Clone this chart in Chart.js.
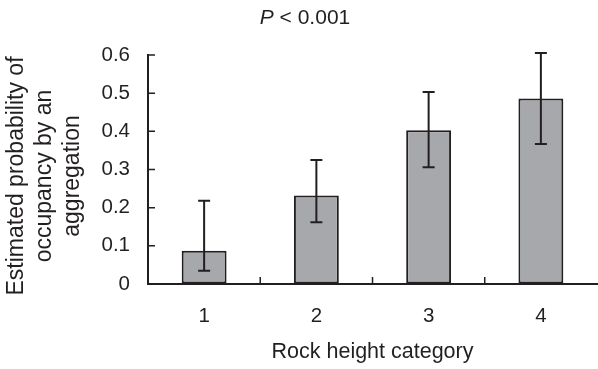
<!DOCTYPE html>
<html>
<head>
<meta charset="utf-8">
<script src="https://cdn.jsdelivr.net/npm/chart.js@4"></script>
<style>
  body { margin: 0; background: #fff; }
  canvas { display: block; }
</style>
</head>
<body>
<canvas id="myChart" width="598" height="369"></canvas>
<script>
const categories = ['1', '2', '3', '4'];
const estimates = [0.087, 0.232, 0.403, 0.486];
const upperCI = [0.218, 0.325, 0.503, 0.605];
const lowerCI = [0.035, 0.162, 0.306, 0.367];
const yTicks = [0, 0.1, 0.2, 0.3, 0.4, 0.5, 0.6];
const yTitleLines = ['Estimated probability of', 'occupancy by an', 'aggregation'];

const dark = '#231f20';
const fontFamily = '"Liberation Sans", Arial, sans-serif';

// error bars, inside tick marks, y title and the P value heading
const extras = {
    id: 'extras',
    afterDatasetsDraw(chart) {
        const ctx = chart.ctx;
        const y = chart.scales.y;
        const meta = chart.getDatasetMeta(0);
        ctx.save();
        ctx.strokeStyle = dark;
        ctx.lineWidth = 2;
        meta.data.forEach((bar, i) => {
            const top = y.getPixelForValue(upperCI[i]);
            const bottom = y.getPixelForValue(lowerCI[i]);
            ctx.beginPath();
            ctx.moveTo(bar.x, top);
            ctx.lineTo(bar.x, bottom);
            ctx.moveTo(bar.x - 6, top);
            ctx.lineTo(bar.x + 6, top);
            ctx.moveTo(bar.x - 6, bottom);
            ctx.lineTo(bar.x + 6, bottom);
            ctx.stroke();
        });
        ctx.restore();
    },
    afterDraw(chart) {
        const ctx = chart.ctx;
        const x = chart.scales.x;
        const y = chart.scales.y;
        const area = chart.chartArea;
        ctx.save();
        ctx.strokeStyle = dark;
        ctx.lineWidth = 1.5;
        ctx.beginPath();
        yTicks.forEach((v) => {
            const py = y.getPixelForValue(v);
            ctx.moveTo(area.left, py);
            ctx.lineTo(area.left + 7, py);
        });
        for (let i = 0; i < categories.length - 1; i++) {
            const px = (x.getPixelForValue(i) + x.getPixelForValue(i + 1)) / 2;
            ctx.moveTo(px, area.bottom);
            ctx.lineTo(px, area.bottom - 7);
        }
        ctx.stroke();

        // y axis title, three rotated lines
        ctx.fillStyle = dark;
        ctx.save();
        ctx.translate(17, 176);
        ctx.rotate(-Math.PI / 2);
        ctx.font = '23px ' + fontFamily;
        ctx.textAlign = 'center';
        ctx.textBaseline = 'middle';
        yTitleLines.forEach((line, i) => {
            ctx.fillText(line, 0, i * 28);
        });
        ctx.restore();

        // heading: italic P followed by the rest
        const rest = ' < 0.001';
        ctx.textBaseline = 'alphabetic';
        ctx.font = 'italic 21px ' + fontFamily;
        const wP = ctx.measureText('P').width;
        ctx.font = '21px ' + fontFamily;
        const wRest = ctx.measureText(rest).width;
        const startX = 305 - (wP + wRest) / 2;
        ctx.font = 'italic 21px ' + fontFamily;
        ctx.fillText('P', startX, 24);
        ctx.font = '21px ' + fontFamily;
        ctx.fillText(rest, startX + wP, 24);
        ctx.restore();
    }
};

const ctx = document.getElementById('myChart').getContext('2d');
const chart = new Chart(ctx, {
    type: 'bar',
    data: {
        labels: categories,
        datasets: [{
            data: estimates,
            backgroundColor: '#a7a8ab',
            borderColor: dark,
            borderWidth: 2,
            borderSkipped: false,
            barPercentage: 0.4,
            categoryPercentage: 1
        }]
    },
    options: {
        responsive: false,
        animation: false,
        layout: { padding: { top: 55, right: 1, left: 0, bottom: 0 } },
        plugins: {
            legend: { display: false },
            tooltip: { enabled: false }
        },
        scales: {
            x: {
                grid: { drawOnChartArea: false, drawTicks: false },
                border: { color: dark, width: 2 },
                ticks: { color: dark, padding: 20, font: { family: fontFamily, size: 20.5 } },
                title: {
                    display: true,
                    text: 'Rock height category',
                    color: dark,
                    padding: { top: 0, bottom: 4 },
                    font: { family: fontFamily, size: 21.5 }
                },
                afterFit(scale) { scale.height = 85; }
            },
            y: {
                min: 0,
                max: 0.6,
                grid: { drawOnChartArea: false, drawTicks: false },
                border: { color: dark, width: 2 },
                ticks: {
                    stepSize: 0.1,
                    color: dark,
                    padding: 18,
                    font: { family: fontFamily, size: 20.5 },
                    callback: (v) => (v === 0 ? '0' : v.toFixed(1))
                },
                afterFit(scale) { scale.width = 148; }
            }
        }
    },
    plugins: [extras]
});
</script>
</body>
</html>
